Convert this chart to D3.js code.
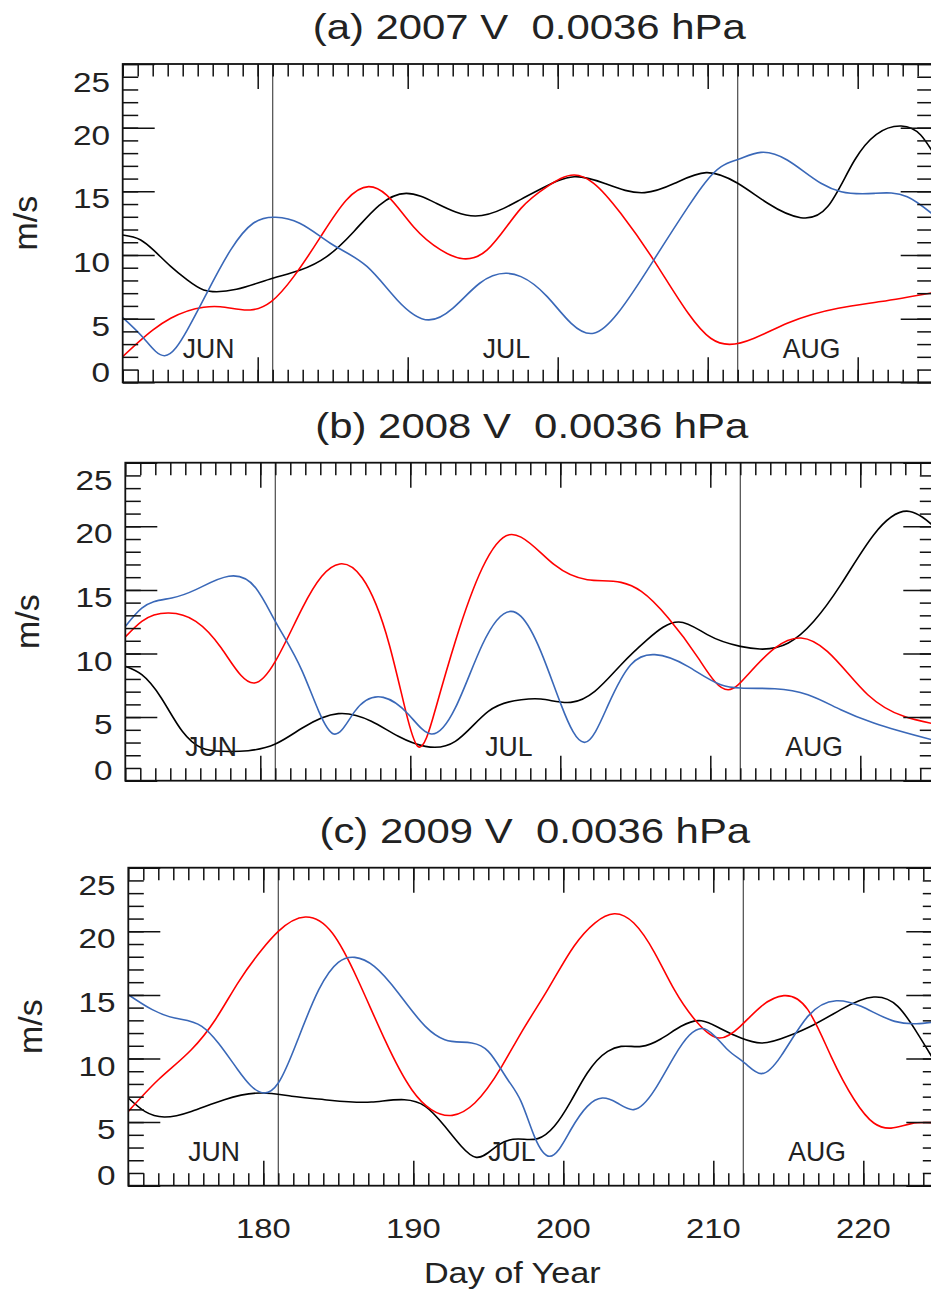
<!DOCTYPE html>
<html><head><meta charset="utf-8">
<script src="https://cdn.jsdelivr.net/npm/d3@7"></script>
<style>body{margin:0;background:#fff}svg{display:block}</style>
</head><body><svg id="c" width="931" height="1293"></svg>
<script>
// ---- data ----
const dayDomain = [171, 225];
const valueDomain = [0, 25];
const xMajorTicks = [180, 190, 200, 210, 220];
const yTickLabels = [0, 5, 10, 15, 20, 25];
const monthLineDays = [181, 212];
const monthNames = ["JUN", "JUL", "AUG"];
const monthLabelDays = [175, 195, 215];
const panelTitles = ["(a) 2007 V  0.0036 hPa", "(b) 2008 V  0.0036 hPa", "(c) 2009 V  0.0036 hPa"];
const yAxisTitle = "m/s";
const xAxisTitle = "Day of Year";

const v2007Black = [[171,11.57],[172.2,11.18],[173.04,10.4],[174.2,9.1],[175.3,8.04],[176.4,7.25],[177.0,7.12],[181,8.17],[182.8,8.8],[184.6,9.87],[186.4,11.83],[188.1,13.9],[189.9,14.84],[191.9,14.06],[194.5,13.06],[196.4,13.66],[197.55,14.37],[198.9,15.2],[201.1,16.15],[203.1,15.63],[205.8,14.9],[207.8,15.63],[209.9,16.47],[212,15.63],[214,14.06],[216.2,12.93],[218,13.8],[219.8,17.46],[222.9,20.13],[224.2,19.42],[225,18.1]];
const v2007Red = [[171,2.02],[173,4.1],[174.2,5.03],[176.4,5.9],[177.5,5.94],[179.5,5.68],[180.9,6.34],[182.4,8.3],[184.2,11.44],[185.9,14.3],[187.4,15.37],[188.6,14.7],[190.4,12.2],[192.2,10.4],[193.7,9.7],[195.3,10.4],[197.55,13.66],[199.3,15.37],[201.1,16.28],[202.4,15.63],[204.2,13.27],[206.4,9.6],[208.7,5.42],[210.2,3.46],[211.45,2.98],[213.1,3.46],[215.3,4.63],[218.7,5.81],[221.55,6.34],[225,7.04]];
const v2007Blue = [[171,5.08],[172.4,3.46],[173.8,2.09],[175.3,4.1],[176.6,6.99],[178.2,10.4],[179.7,12.49],[181.2,12.96],[182.8,12.49],[185.0,10.8],[187.3,9.08],[189.3,6.47],[191.4,4.9],[193.0,5.81],[194.8,7.78],[196.6,8.56],[197.55,8.3],[199.3,6.73],[200.9,4.63],[202.4,3.85],[204,5.42],[206.4,9.6],[208.7,13.8],[210.9,16.94],[212,17.5],[213.55,18.06],[215.3,17.46],[217.55,15.63],[218.9,14.97],[221.1,14.84],[223.3,14.58],[225,13.2]];

const v2008Black = [[171,8.99],[172.1,8.33],[173.4,6.5],[174.8,3.88],[176.1,2.57],[177.4,2.31],[179.2,2.36],[181,2.88],[182.8,4.14],[185.2,5.27],[187.4,4.67],[189.2,3.49],[191,2.7],[193,3.09],[195.2,5.45],[197.4,6.37],[198.7,6.42],[200.7,6.16],[202.3,7.03],[204.05,9.12],[205.8,11.09],[207.9,12.48],[209.8,11.48],[212,10.56],[213.3,10.35],[215.2,10.82],[216.9,12.53],[218.7,15.41],[220.9,19.34],[223.3,21.17],[225,19.9]];
const v2008Red = [[171,11.3],[172.1,12.53],[173.9,13.18],[175.7,12.53],[177.4,10.43],[179.6,7.68],[181,9.38],[182.8,13.57],[184.1,16.07],[185.3,17.04],[186.8,15.93],[188.6,10.69],[189.7,5.45],[190.5,2.7],[191.7,5.72],[193,10.95],[194.8,16.72],[196.6,19.34],[197.38,19.15],[199.6,16.98],[201.8,15.8],[204.05,15.59],[205.4,14.88],[207.2,12.79],[209.2,9.64],[211.2,7.15],[212.5,8.33],[214.3,10.43],[216.05,11.22],[217.8,10.17],[220.5,6.76],[222.9,5.06],[225,4.45]];
const v2008Blue = [[171,12.13],[172.1,13.57],[174.1,14.36],[175.7,15.02],[177.9,16.07],[179.7,15.15],[181,12.53],[182.8,8.6],[183.9,5.45],[184.9,3.67],[186.3,5.45],[188.2,6.55],[189.9,5.19],[191.4,3.67],[193,5.72],[194.8,10.69],[196.7,13.31],[197.38,12.92],[198.7,10.17],[200.05,5.98],[201.65,3.02],[203.2,5.98],[204.7,9.12],[206.3,9.91],[208.5,8.99],[210.7,7.55],[212,7.29],[214.3,7.23],[216.5,6.76],[218.7,5.58],[220.9,4.53],[225,3.15]];

const v2009Black = [[171,6.89],[172.1,5.84],[173.4,5.4],[175.2,5.84],[177.4,6.76],[179.9,7.29],[181.9,7.03],[184.1,6.76],[187.2,6.58],[189.4,6.76],[190.8,6.24],[192.1,4.67],[193.2,3.1],[194.2,2.23],[195.7,3.22],[197,3.67],[198.3,3.7],[199.4,4.67],[200.5,6.63],[201.6,8.86],[202.96,10.56],[203.85,10.95],[205.2,10.95],[206.5,11.53],[207.85,12.53],[209.2,12.97],[210.5,12.34],[211.85,11.61],[213.2,11.22],[214.96,11.74],[216.7,12.66],[218.5,13.84],[220.7,14.83],[222.3,14.1],[223.6,12.0],[225,9.3]];
const v2009Red = [[171,5.84],[173,8.33],[175.2,10.69],[176.8,13.05],[178.3,15.93],[179.9,18.55],[181,19.99],[182.8,21.12],[184.6,19.86],[186.3,16.19],[188.1,11.48],[189.9,7.55],[191.2,5.98],[192.6,5.53],[194.1,6.5],[195.9,9.38],[197.18,12.0],[198.96,15.41],[200.7,18.81],[202.1,20.65],[203.4,21.38],[204.7,20.65],[206.1,18.29],[207.4,15.41],[208.96,12.79],[210.4,11.61],[211.8,12.53],[213.2,14.1],[214.7,14.94],[216.3,13.84],[217.85,10.17],[219.4,6.76],[220.7,4.93],[221.85,4.53],[223.2,4.88],[225,4.93]];
const v2009Blue = [[171,15.02],[172.6,13.84],[174.1,13.18],[175.9,12.53],[177,11.22],[178.3,9.12],[180,7.29],[181,8.07],[182.3,11.48],[183.7,15.41],[185,17.56],[186.1,17.95],[187.4,17.24],[189,15.15],[190.8,12.53],[192.1,11.48],[193.9,11.22],[195,10.56],[196.3,8.33],[197.18,6.63],[198.1,3.8],[199.1,2.31],[200.5,4.4],[201.6,6.24],[202.6,6.89],[203.6,6.5],[204.7,5.98],[206.1,7.55],[207.4,10.17],[209.4,12.34],[210.96,10.69],[212.1,9.64],[213.2,8.81],[214.5,10.17],[216.3,13.31],[218.2,14.54],[219.85,14.1],[222.1,12.92],[225,12.92]];

const panelSeries = [
  [v2007Black, v2007Red, v2007Blue],
  [v2008Black, v2008Red, v2008Blue],
  [v2009Black, v2009Red, v2009Blue]
];
const seriesColors = ["#000000", "#ff0000", "#3a68b8"];

// ---- custom d3 curve: natural cubic spline y(x) over non-uniform x ----
function curveSplineX(context) {
  let xs, ys;
  return {
    areaStart() {}, areaEnd() {},
    lineStart() { xs = []; ys = []; },
    point(x, y) { xs.push(+x); ys.push(+y); },
    lineEnd() {
      const n = xs.length;
      if (!n) return;
      context.moveTo(xs[0], ys[0]);
      if (n < 3) { for (let i = 1; i < n; i++) context.lineTo(xs[i], ys[i]); return; }
      const h = [], M = new Array(n).fill(0);
      for (let i = 0; i < n - 1; i++) h.push(xs[i + 1] - xs[i]);
      // tridiagonal system for interior second derivatives
      const a = [], bb = [], c = [], r = [];
      for (let i = 1; i < n - 1; i++) {
        a.push(h[i - 1]); bb.push(2 * (h[i - 1] + h[i])); c.push(h[i]);
        r.push(6 * ((ys[i + 1] - ys[i]) / h[i] - (ys[i] - ys[i - 1]) / h[i - 1]));
      }
      const m = bb.length;
      for (let i = 1; i < m; i++) {
        const w = a[i] / bb[i - 1];
        bb[i] -= w * c[i - 1]; r[i] -= w * r[i - 1];
      }
      const sol = new Array(m);
      sol[m - 1] = r[m - 1] / bb[m - 1];
      for (let i = m - 2; i >= 0; i--) sol[i] = (r[i] - c[i] * sol[i + 1]) / bb[i];
      for (let i = 0; i < m; i++) M[i + 1] = sol[i];
      for (let i = 0; i < n - 1; i++) {
        const hi = h[i], s = (ys[i + 1] - ys[i]) / hi;
        const d0 = s - hi * (2 * M[i] + M[i + 1]) / 6;
        const d1 = s + hi * (M[i] + 2 * M[i + 1]) / 6;
        context.bezierCurveTo(xs[i] + hi / 3, ys[i] + d0 * hi / 3,
                              xs[i + 1] - hi / 3, ys[i + 1] - d1 * hi / 3,
                              xs[i + 1], ys[i + 1]);
      }
    }
  };
}

// ---- layout ----
const panelBoxes = [
  {L: 122.7, T: 64,    W: 810, H: 318.3},
  {L: 125.3, T: 462.7, W: 810, H: 318},
  {L: 128.3, T: 867.7, W: 810, H: 318}
];
const FONT = "'Liberation Sans', Arial, Helvetica, sans-serif";
const TXT = "#222";

const svg = d3.select("#c");

panelBoxes.forEach((b, i) => {
  const B = b.T + b.H, R = b.L + b.W;
  const x = d3.scaleLinear().domain(dayDomain).range([b.L, R]);
  const y = d3.scaleLinear().domain(valueDomain).range([B, b.T]);
  const g = svg.append("g");

  const clipId = "clip" + i;
  svg.append("clipPath").attr("id", clipId).append("rect")
    .attr("x", b.L).attr("y", b.T).attr("width", b.W).attr("height", b.H);

  // month separator lines
  g.selectAll(".ml").data(monthLineDays).enter().append("line")
    .attr("x1", d => x(d)).attr("x2", d => x(d))
    .attr("y1", b.T).attr("y2", B)
    .attr("stroke", "#4a4a4a").attr("stroke-width", 1.2);

  // curves
  const line = d3.line().x(d => x(d[0])).y(d => y(d[1])).curve(curveSplineX);
  const cg = g.append("g").attr("clip-path", `url(#${clipId})`);
  panelSeries[i].forEach((s, k) => {
    cg.append("path").datum(s).attr("d", line)
      .attr("fill", "none").attr("stroke", seriesColors[k]).attr("stroke-width", 1.6)
      .attr("stroke-linejoin", "round");
  });

  // ticks via d3 axes (inward)
  const dayAll = d3.range(dayDomain[0], dayDomain[1] + 1);
  const valAll = d3.range(valueDomain[0], valueDomain[1] + 1);
  const ax = [];
  ax.push(g.append("g").attr("transform", `translate(0,${b.T})`).call(d3.axisTop(x).tickValues(dayAll).tickSizeInner(-12.5).tickSizeOuter(0).tickFormat("")));
  ax.push(g.append("g").attr("transform", `translate(0,${b.T})`).call(d3.axisTop(x).tickValues(xMajorTicks).tickSizeInner(-25).tickSizeOuter(0).tickFormat("")));
  ax.push(g.append("g").attr("transform", `translate(0,${B})`).call(d3.axisBottom(x).tickValues(dayAll).tickSizeInner(-12.5).tickSizeOuter(0).tickFormat("")));
  ax.push(g.append("g").attr("transform", `translate(0,${B})`).call(d3.axisBottom(x).tickValues(xMajorTicks).tickSizeInner(-25).tickSizeOuter(0).tickFormat("")));
  ax.push(g.append("g").attr("transform", `translate(${b.L},0)`).call(d3.axisLeft(y).tickValues(valAll).tickSizeInner(-15.5).tickSizeOuter(0).tickFormat("")));
  ax.push(g.append("g").attr("transform", `translate(${b.L},0)`).call(d3.axisLeft(y).tickValues(yTickLabels).tickSizeInner(-32).tickSizeOuter(0).tickFormat("")));
  ax.push(g.append("g").attr("transform", `translate(${R},0)`).call(d3.axisRight(y).tickValues(valAll).tickSizeInner(-15.5).tickSizeOuter(0).tickFormat("")));
  ax.push(g.append("g").attr("transform", `translate(${R},0)`).call(d3.axisRight(y).tickValues(yTickLabels).tickSizeInner(-32).tickSizeOuter(0).tickFormat("")));
  ax.forEach(a => {
    a.select(".domain").remove();
    a.selectAll("line").attr("stroke", "#111").attr("stroke-width", 1.5);
  });

  // frame
  g.append("rect").attr("x", b.L).attr("y", b.T).attr("width", b.W).attr("height", b.H)
    .attr("fill", "none").attr("stroke", "#111").attr("stroke-width", 1.8);

  // y tick labels
  yTickLabels.forEach(v => {
    let yb = y(v) + 17;
    if (v === valueDomain[0]) yb = y(v) - 0.6;
    if (v === valueDomain[1]) yb = y(v) + 27.7;
    g.append("text").text(v)
      .attr("transform", `translate(${b.L - 12.7},${yb}) scale(1.19,1)`)
      .attr("text-anchor", "end").attr("font-family", FONT).attr("font-size", 28).attr("fill", TXT);
  });

  // y axis title
  g.append("text").text(yAxisTitle)
    .attr("transform", `translate(${b.L - 86},${b.T + b.H / 2}) rotate(-90)`)
    .attr("text-anchor", "middle").attr("font-family", FONT).attr("font-size", 34).attr("fill", TXT);

  // panel title
  g.append("text").text(panelTitles[i])
    .attr("transform", `translate(${(b.L + R) / 2 + 1.5},${b.T - 24.7}) scale(1.18,1)`)
    .attr("text-anchor", "middle").attr("font-family", FONT).attr("font-size", 35.5).attr("fill", TXT)
    .attr("xml:space", "preserve").style("white-space", "pre");

  // month labels
  monthNames.forEach((m, k) => {
    g.append("text").text(m)
      .attr("transform", `translate(${x(monthLabelDays[k])},${B - 24.6}) scale(0.95,1)`)
      .attr("font-family", FONT).attr("font-size", 28).attr("fill", TXT);
  });

  // x tick labels (bottom panel only)
  if (i === panelBoxes.length - 1) {
    xMajorTicks.forEach(d => {
      g.append("text").text(d)
        .attr("transform", `translate(${x(d)},${B + 52.6}) scale(1.17,1)`)
        .attr("text-anchor", "middle").attr("font-family", FONT).attr("font-size", 28).attr("fill", TXT);
    });
    g.append("text").text(xAxisTitle)
      .attr("transform", `translate(512.3,${B + 97.6}) scale(1.14,1)`)
      .attr("text-anchor", "middle").attr("font-family", FONT).attr("font-size", 30).attr("fill", TXT);
  }
});
</script>
</body></html>
